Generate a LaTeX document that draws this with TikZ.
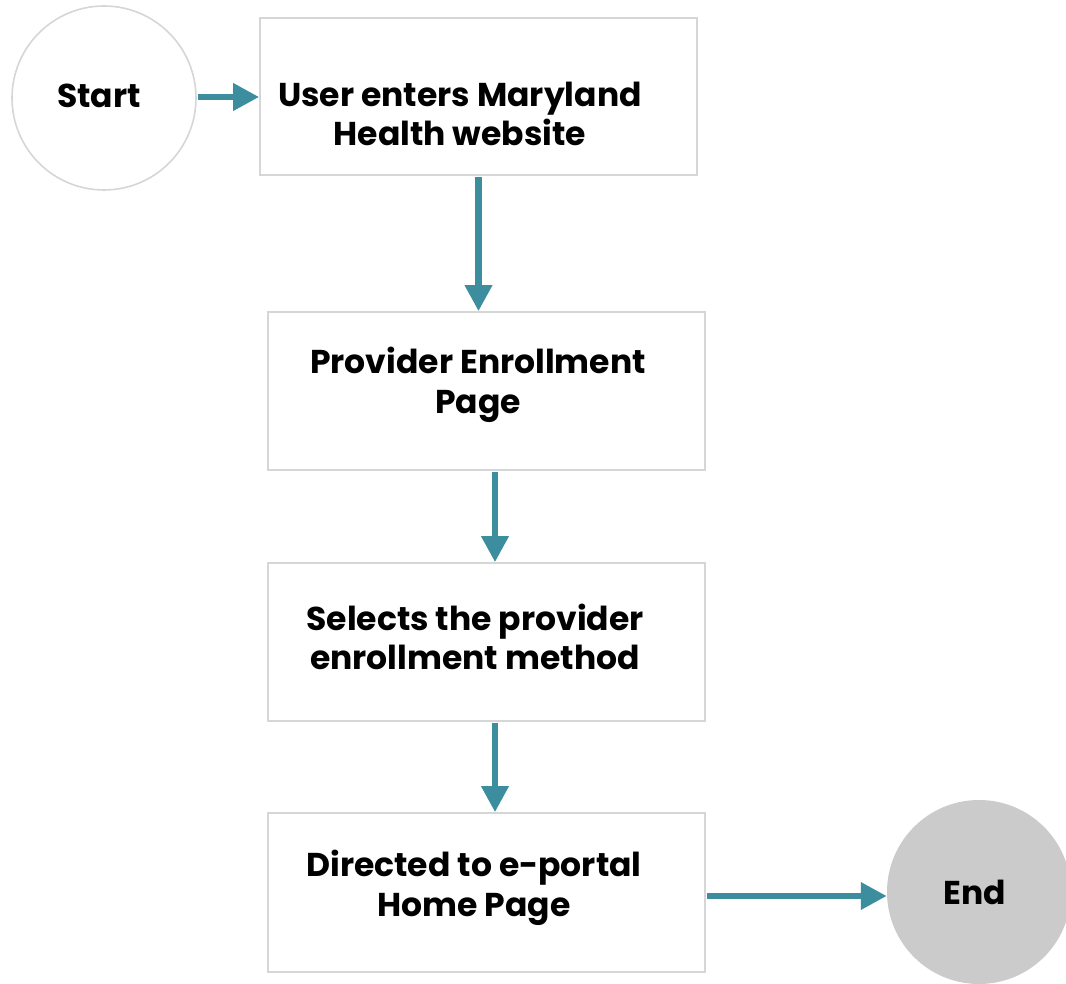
\documentclass[tikz,border=0pt]{standalone}
\usepackage{fontspec}
\setmainfont{Poppins}
\usetikzlibrary{arrows.meta}
\definecolor{flowteal}{HTML}{3C8D9D}
\definecolor{boxline}{HTML}{D6D6D6}
\definecolor{endgray}{HTML}{CBCBCB}
\tikzset{
  stepbox/.style={draw=boxline, line width=1.6pt, fill=white, rectangle, inner sep=0pt},
  startcirc/.style={circle, draw=boxline, line width=1.6pt, fill=white, minimum size=184pt, inner sep=0pt},
  endcirc/.style={circle, fill=endgray, minimum size=184pt, inner sep=0pt},
  steptext/.style={align=center, font=\fontsize{33}{39.5}\selectfont\bfseries, inner sep=0pt},
  flow/.style={draw=flowteal, line width=6.5pt, -{Triangle[length=26pt,width=26pt]}, shorten <=1pt}
}
\begin{document}
\begin{tikzpicture}[x=1pt,y=-1pt]
\useasboundingbox (0,0) rectangle (1066,984);

% start and end terminals
\node[startcirc] (start) at (104,98) {};
\node[steptext] (starttxt) at (99,96) {Start};
\node[endcirc] (end) at (979,892) {};
\node[steptext] (endtxt) at (975,892) {End};

% process boxes
\node[stepbox, minimum width=437pt, minimum height=157pt] (b1) at (478.5,96.5) {};
\node[stepbox, minimum width=437pt, minimum height=158pt] (b2) at (486.5,391) {};
\node[stepbox, minimum width=437pt, minimum height=158pt] (b3) at (486.5,642) {};
\node[stepbox, minimum width=437pt, minimum height=159pt] (b4) at (486.5,892.5) {};

\node[steptext] (t1) at (460,114) {User enters Maryland\\Health website};
\node[steptext] (t2) at (478,385) {Provider Enrollment\\Page};
\node[steptext] (t3) at (475,637) {Selects the provider\\enrollment method};
\node[steptext] (t4) at (474,888) {Directed to e-portal\\Home Page};

% connectors
\draw[flow] (start.east |- 0,97) -- (b1.west |- 0,97);
\draw[flow] (b1.south) -- (b1.south |- b2.north);
\draw[flow] ([xshift=8.5pt]b2.south) -- ([xshift=8.5pt]b3.north);
\draw[flow] ([xshift=8.5pt]b3.south) -- ([xshift=8.5pt]b4.north);
\draw[flow] (b4.east |- 0,896) -- (end.west |- 0,896);
\end{tikzpicture}
\end{document}
